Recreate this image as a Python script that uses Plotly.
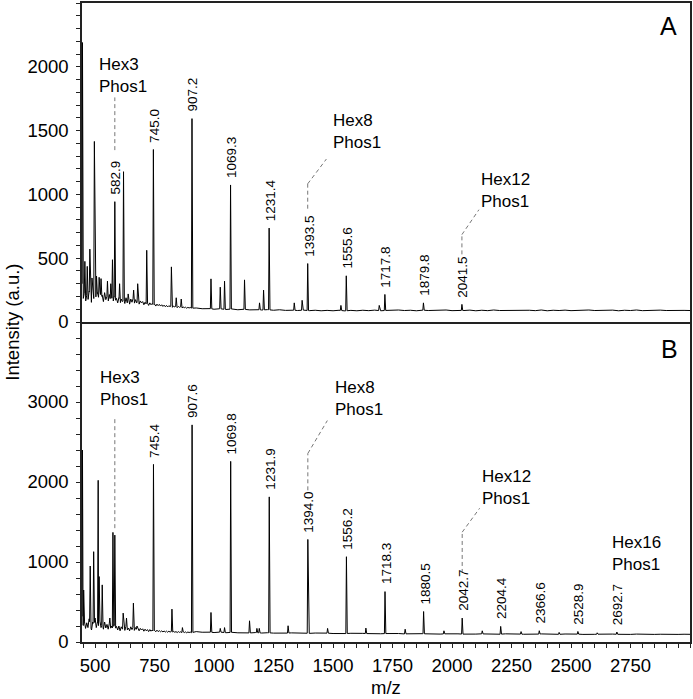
import numpy as np
import plotly.graph_objects as go

# ---------------- data ----------------
# Panel A peaks (m/z, intensity)
peaks_mz_A = [447, 457, 467, 478, 487, 497, 506, 517, 525, 552, 566, 573, 582.9, 603, 619.5,
              639, 662, 679, 717, 745.0, 820.7, 841, 862, 907.2, 987, 1026, 1044, 1069.3,
              1128, 1191, 1208, 1231.4, 1337, 1370, 1393.5, 1533, 1555.6, 1694, 1717.8,
              1879.8, 2041.5]
peaks_int_A = [2190, 475, 436, 571, 345, 1415, 360, 350, 340, 320, 300, 488, 943, 300, 1178,
               220, 250, 300, 562, 1352, 432, 190, 180, 1594, 338, 273, 320, 1074,
               330, 150, 250, 736, 150, 170, 458, 130, 362, 130, 216,
               150, 138]
labels_A = ["582.9", "745.0", "907.2", "1069.3", "1231.4", "1393.5", "1555.6", "1717.8",
            "1879.8", "2041.5"]

# Panel B peaks
peaks_mz_B = [447, 452, 479.5, 494, 513, 517, 530, 562, 575, 582.9, 618, 632, 661, 676,
              745.4, 823, 867, 907.6, 987, 1026, 1044, 1069.8, 1149, 1180, 1190, 1231.9,
              1311, 1394.0, 1477, 1556.2, 1638, 1718.3, 1803, 1880.5, 1966, 2042.7, 2127,
              2204.4, 2290, 2366.6, 2450, 2528.9, 2610, 2692.7]
peaks_int_B = [2400, 650, 950, 1129, 2021, 818, 714, 300, 1370, 1336, 361, 300, 486, 200,
               2220, 411, 180, 2714, 369, 170, 180, 2258, 265, 170, 170, 1814,
               203, 1282, 170, 1066, 174, 630, 160, 381, 140, 299, 140,
               195, 130, 141, 120, 132, 115, 125]
labels_B = ["745.4", "907.6", "1069.8", "1231.9", "1394.0", "1556.2", "1718.3", "1880.5",
            "2042.7", "2204.4", "2366.6", "2528.9", "2692.7"]

# Baseline (noise): low-mass part every 5 m/z from 445 to 905,
# high-mass part every 25 m/z from 925 to 3000
base_A_low = [300, 180, 230, 160, 210, 170, 240, 190, 150, 220, 180, 260, 170, 230, 190, 250,
              180, 210, 160, 230, 175, 200, 160, 215, 170, 190, 150, 200, 165, 185, 150, 190,
              140, 180, 160, 175, 145, 190, 150, 170, 140, 180, 155, 185, 145, 175, 150, 170,
              140, 165, 150, 160, 135, 155, 140, 150, 130, 150, 135, 145, 130, 140, 125, 140,
              128, 138, 125, 135, 122, 132, 120, 130, 118, 128, 120, 126, 115, 125, 118, 124,
              112, 122, 115, 120, 110, 118, 112, 116, 108, 115, 110, 114, 108]
base_A_high = [110, 104, 108, 100, 104, 98, 102, 96, 100, 95, 99, 94, 97, 92, 96, 91, 94, 90,
               93, 89, 92, 88, 91, 88, 92, 87, 91, 88, 92, 89, 93, 88, 91, 89, 94, 90, 92, 88,
               93, 90, 91, 88, 94, 89, 92, 90, 93, 88, 92, 89, 94, 90, 91, 88, 93, 90, 92, 89,
               94, 88, 92, 90, 93, 89, 91, 88, 94, 90, 92, 89, 93, 88, 92, 90, 94, 89, 91, 88,
               93, 90, 92, 89, 91, 90]
base_B_low = [320, 200, 260, 170, 240, 180, 290, 200, 150, 250, 190, 300, 180, 250, 200, 270,
              180, 230, 160, 250, 175, 220, 160, 235, 170, 200, 150, 215, 165, 195, 150, 200,
              140, 190, 160, 185, 145, 200, 150, 175, 140, 190, 155, 190, 145, 180, 150, 175,
              140, 170, 150, 165, 135, 160, 140, 155, 130, 155, 135, 150, 130, 145, 128, 148,
              130, 142, 128, 140, 125, 138, 124, 136, 122, 135, 124, 133, 120, 132, 122, 130,
              118, 130, 120, 128, 116, 127, 118, 126, 115, 125, 118, 124, 116]
base_B_high = [130, 122, 126, 118, 124, 116, 121, 115, 119, 113, 118, 112, 116, 111, 115, 110,
               114, 109, 113, 108, 112, 107, 111, 106, 110, 105, 109, 104, 108, 104, 107, 103,
               106, 102, 106, 101, 105, 101, 104, 100, 104, 99, 103, 100, 102, 98, 103, 99,
               102, 98, 101, 97, 102, 98, 101, 97, 100, 96, 101, 97, 100, 96, 100, 97, 99, 95,
               100, 96, 99, 95, 99, 96, 98, 95, 99, 96, 98, 95, 97, 94, 98, 95, 97, 96]

x_ticks = [500, 750, 1000, 1250, 1500, 1750, 2000, 2250, 2500, 2750]
yA_ticks = [0, 500, 1000, 1500, 2000]
yB_ticks = [0, 1000, 2000, 3000]

# ---------------- build spectra ----------------
mz_low = np.arange(445, 906, 5, dtype=float)
mz_high = np.arange(925, 3001, 25, dtype=float)


def spectrum(base_low, base_high, pk_mz, pk_h):
    bx = np.concatenate([mz_low, mz_high])
    by = np.concatenate([np.array(base_low, float), np.array(base_high, float)])
    left, right = 2.5, 3.5
    keep = np.ones(len(bx), bool)
    for m in pk_mz:
        keep &= ~((bx > m - left) & (bx < m + right))
    xs = list(bx[keep])
    ys = list(by[keep])
    for m, h in zip(pk_mz, pk_h):
        for xx in (m - left, m + right):
            xs.append(max(xx, 445.5))
            ys.append(float(np.interp(xx, bx, by)))
        xs.append(m)
        ys.append(h)
    order = np.argsort(np.array(xs), kind="stable")
    return np.array(xs)[order], np.array(ys)[order]


xA, yA = spectrum(base_A_low, base_A_high, peaks_mz_A, peaks_int_A)
xB, yB = spectrum(base_B_low, base_B_high, peaks_mz_B, peaks_int_B)

FONT = "Liberation Sans, Arial, sans-serif"
LINE = "#222222"

fig = go.Figure()
fig.add_trace(go.Scatter(x=xA, y=yA, mode="lines", line=dict(color="black", width=1),
                         xaxis="x", yaxis="y", hoverinfo="skip"))
fig.add_trace(go.Scatter(x=xB, y=yB, mode="lines", line=dict(color="black", width=1),
                         xaxis="x2", yaxis="y2", hoverinfo="skip"))

annotations = []
hA = dict(zip(peaks_mz_A, peaks_int_A))
hB = dict(zip(peaks_mz_B, peaks_int_B))
for lab in labels_A:
    m = float(lab)
    annotations.append(dict(x=m, y=hA[m], xref="x", yref="y", text=lab, textangle=-90,
                            showarrow=False, xanchor="center", yanchor="bottom",
                            yshift=5, xshift=1, font=dict(size=13.5, family=FONT, color="black")))
for lab in labels_B:
    m = float(lab)
    annotations.append(dict(x=m, y=hB[m], xref="x2", yref="y2", text=lab, textangle=-90,
                            showarrow=False, xanchor="center", yanchor="bottom",
                            yshift=5, xshift=1, font=dict(size=13.5, family=FONT, color="black")))

hex_font = dict(size=17, family=FONT, color="black")
for (xx, yy, txt, xr, yr) in [
    (507, 1935, "Hex3<br>Phos1", "x", "y"),
    (1491, 1495, "Hex8<br>Phos1", "x", "y"),
    (2113, 1028, "Hex12<br>Phos1", "x", "y"),
    (512, 3166, "Hex3<br>Phos1", "x2", "y2"),
    (1501, 3042, "Hex8<br>Phos1", "x2", "y2"),
    (2116, 1934, "Hex12<br>Phos1", "x2", "y2"),
    (2665, 1105, "Hex16<br>Phos1", "x2", "y2"),
]:
    annotations.append(dict(x=xx, y=yy, xref=xr, yref=yr, text=txt, showarrow=False,
                            xanchor="left", yanchor="middle", align="left", font=hex_font))

annotations.append(dict(x=0.964, y=0.964, xref="paper", yref="paper", text="A",
                        showarrow=False, xanchor="center", yanchor="middle",
                        font=dict(size=25, family=FONT, color="black")))
annotations.append(dict(x=0.967, y=0.459, xref="paper", yref="paper", text="B",
                        showarrow=False, xanchor="center", yanchor="middle",
                        font=dict(size=25, family=FONT, color="black")))
annotations.append(dict(x=-0.1148, y=0.5, xref="paper", yref="paper", text="Intensity (a.u.)",
                        textangle=-90, showarrow=False, xanchor="center", yanchor="middle",
                        font=dict(size=18.5, family=FONT, color="black")))
annotations.append(dict(x=0.5, y=-0.0718, xref="paper", yref="paper", text="m/z",
                        showarrow=False, xanchor="center", yanchor="middle",
                        font=dict(size=18.5, family=FONT, color="black")))

dash = dict(color="#777777", width=1, dash="4px,3px")
shapes = []
for (pts, xr, yr) in [
    ([(582.9, 1347), (582.9, 1760)], "x", "y"),
    ([(1393.5, 888), (1393.5, 1083), (1472, 1277)], "x", "y"),
    ([(2041.5, 530), (2041.5, 685), (2113, 880)], "x", "y"),
    ([(582.9, 1423), (582.9, 2792)], "x2", "y2"),
    ([(1394.0, 1896), (1394.0, 2357), (1476, 2768)], "x2", "y2"),
    ([(2042.7, 863), (2042.7, 1373), (2116, 1672)], "x2", "y2"),
]:
    for (x0, y0), (x1, y1) in zip(pts[:-1], pts[1:]):
        shapes.append(dict(type="line", x0=x0, y0=y0, x1=x1, y1=y1, xref=xr, yref=yr, line=dash))

tickfont = dict(size=18.5, family=FONT, color="black")
common_axis = dict(showline=True, linecolor=LINE, linewidth=1.5,
                   showgrid=False, zeroline=False, tickfont=tickfont, tickcolor=LINE)
split = 321 / 641

fig.update_layout(
    width=693, height=699,
    margin=dict(l=82, r=1, t=1, b=57),
    paper_bgcolor="white", plot_bgcolor="white",
    showlegend=False,
    annotations=annotations,
    shapes=shapes,
    xaxis=dict(domain=[0, 1], anchor="y", range=[445, 3000], showticklabels=False,
               ticks="", mirror=True, **common_axis),
    yaxis=dict(domain=[split, 1], anchor="x", range=[0, 2500], tickvals=yA_ticks,
               ticks="outside", ticklen=4, tickwidth=1, ticklabelstandoff=4, mirror=True,
               minor=dict(dtick=100, ticks="outside", ticklen=4, tickcolor=LINE, tickwidth=1),
               **common_axis),
    xaxis2=dict(domain=[0, 1], anchor="y2", range=[445, 3000], tickvals=x_ticks,
                ticks="outside", ticklen=4, tickwidth=1, ticklabelstandoff=2, mirror=False,
                minor=dict(dtick=50, tick0=0, ticks="outside", ticklen=4, tickcolor=LINE, tickwidth=1),
                **common_axis),
    yaxis2=dict(domain=[0, split], anchor="x2", range=[0, 4000], tickvals=yB_ticks,
                ticks="outside", ticklen=4, tickwidth=1, ticklabelstandoff=4, mirror=True,
                minor=dict(dtick=200, ticks="outside", ticklen=4, tickcolor=LINE, tickwidth=1),
                **common_axis),
)

fig.write_html("out.html", config={"displayModeBar": False},
               post_script="document.body.style.margin='0';document.body.style.overflow='hidden';")
